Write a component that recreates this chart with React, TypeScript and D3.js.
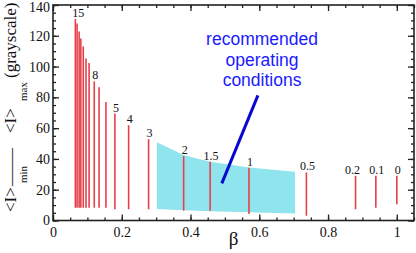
import { useEffect, useRef } from "react";
import * as d3 from "d3";

// bars: parameter label, beta position, top and bottom of the range
const params = ["15", "14", "13", "12", "11", "10", "9", "8", "7", "6", "5", "4", "3", "2", "1.5", "1", "0.5", "0.2", "0.1", "0"];
const betas = [0.065, 0.07, 0.076, 0.081, 0.088, 0.096, 0.105, 0.12, 0.134, 0.154, 0.18, 0.22, 0.278, 0.38, 0.457, 0.57, 0.737, 0.88, 0.939, 1.0];
const tops = [131, 128, 122.8, 118.2, 113.1, 105.3, 102.3, 90.4, 86.5, 77, 69.5, 61.9, 52.8, 41.8, 38.1, 34.2, 31.2, 29, 29, 29];
const bottoms = [8.3, 8.3, 8.3, 8.3, 8.3, 8.3, 8.3, 8.3, 8.3, 8.3, 7.3, 7.3, 7.3, 6.4, 6.4, 4.2, 3.1, 7.3, 8.3, 10.5];
const labelled = ["15", "8", "5", "4", "3", "2", "1.5", "1", "0.5", "0.2", "0.1", "0"];

// shaded "recommended" region
const bandBeta = [0.302, 0.381, 0.457, 0.57, 0.704];
const bandTop = [50.9, 42.4, 38.1, 34.4, 31.6];
const bandBottom = [7.4, 6.6, 6.0, 5.3, 4.6];

const xTicks = [0, 0.2, 0.4, 0.6, 0.8, 1];
const xTickLabels = ["0", "0.2", "0.4", "0.6", "0.8", "1"];
const yTicks = [0, 20, 40, 60, 80, 100, 120, 140];
const yTickLabels = ["0", "20", "40", "60", "80", "100", "120", "140"];

const noteLines = ["recommended", "operating", "conditions"];
const notePos = [0.608, 113.7];
const pointer = [[0.596, 81.3], [0.491, 24.1]];

const serif = "'Liberation Serif', 'Times New Roman', serif";
const sans = "'Liberation Sans', Arial, Helvetica, sans-serif";

const App = () => {
  const svgRef = useRef<SVGSVGElement>(null);

  useEffect(() => {
    const width = 416;
    const height = 253;
    const left = 53, right = 414, top = 5, bottom = 220.5;

    const svg = d3.select(svgRef.current);
    svg.selectAll("*").remove();
    svg.attr("width", width).attr("height", height);

    const x = d3.scaleLinear().domain([0, 1.05]).range([left, right]);
    const y = d3.scaleLinear().domain([0, 140]).range([bottom, top]);

    // band
    const band = bandBeta.map((b, i) => ({ b, t: bandTop[i], lo: bandBottom[i] }));
    svg.append("path")
      .datum(band)
      .attr("fill", "#8fe4ee")
      .attr("d", d3.area<any>().x(d => x(d.b)).y0(d => y(d.lo)).y1(d => y(d.t)));

    // bars
    const bars = params.map((p, i) => ({ p, b: betas[i], t: tops[i], lo: bottoms[i] }));
    svg.append("g").selectAll("line")
      .data(bars)
      .join("line")
      .attr("x1", d => x(d.b)).attr("x2", d => x(d.b))
      .attr("y1", d => y(d.lo)).attr("y2", d => y(d.t))
      .attr("stroke", "#e5404a")
      .attr("stroke-width", 1.6);

    svg.append("g").selectAll("text")
      .data(bars.filter(d => labelled.includes(d.p)))
      .join("text")
      .attr("x", d => x(d.b) + (d.p === "15" ? 3 : d.p === "0.2" ? -3 : 1))
      .attr("y", d => y(d.t) - 2)
      .attr("text-anchor", "middle")
      .style("font-family", serif)
      .style("font-size", "12px")
      .attr("fill", "#111")
      .text(d => d.p);

    // axes
    const xMinor = d3.range(0, 1.051, 0.05);
    const yMinor = d3.range(0, 140.1, 5);
    const axisStyle = (g: any) => {
      g.select(".domain").remove();
      g.selectAll("line").attr("stroke", "#222").attr("stroke-width", 1.3);
      g.selectAll("text").style("font-family", serif).style("font-size", "14px").attr("fill", "#111");
    };

    svg.append("g").attr("transform", `translate(0,${bottom})`)
      .call(d3.axisBottom(x).tickValues(xMinor).tickSize(-3).tickFormat(() => "")).call(axisStyle);
    svg.append("g").attr("transform", `translate(0,${bottom})`)
      .call(d3.axisBottom(x).tickValues(xTicks).tickSize(-6).tickPadding(6.5)
        .tickFormat((d, i) => xTickLabels[i])).call(axisStyle);
    svg.append("g").attr("transform", `translate(0,${top})`)
      .call(d3.axisTop(x).tickValues(xMinor).tickSize(-3).tickFormat(() => "")).call(axisStyle);
    svg.append("g").attr("transform", `translate(0,${top})`)
      .call(d3.axisTop(x).tickValues(xTicks).tickSize(-6).tickFormat(() => "")).call(axisStyle);

    svg.append("g").attr("transform", `translate(${left},0)`)
      .call(d3.axisLeft(y).tickValues(yMinor).tickSize(-3).tickFormat(() => "")).call(axisStyle);
    const yAxisG = svg.append("g").attr("transform", `translate(${left},0)`)
      .call(d3.axisLeft(y).tickValues(yTicks).tickSize(-6).tickPadding(3)
        .tickFormat((d, i) => yTickLabels[i])).call(axisStyle);
    // keep the top label inside the picture
    yAxisG.selectAll(".tick text").filter((d: any) => d === 140).attr("dy", "0.45em");
    svg.append("g").attr("transform", `translate(${right},0)`)
      .call(d3.axisRight(y).tickValues(yMinor).tickSize(-3).tickFormat(() => "")).call(axisStyle);
    svg.append("g").attr("transform", `translate(${right},0)`)
      .call(d3.axisRight(y).tickValues(yTicks).tickSize(-6).tickFormat(() => "")).call(axisStyle);

    // frame
    svg.append("rect")
      .attr("x", left).attr("y", top)
      .attr("width", right - left).attr("height", bottom - top)
      .attr("fill", "none").attr("stroke", "#222").attr("stroke-width", 1.6);

    // x title
    svg.append("text")
      .attr("x", (left + right) / 2).attr("y", 245)
      .attr("text-anchor", "middle")
      .style("font-family", serif).style("font-size", "19px")
      .attr("fill", "#111")
      .text("β");

    // y title, pieces reading upwards
    const yTitle = [
      { t: "<I>", x: 16, y: 212, s: 17 },
      { t: "min", x: 27, y: 183, s: 11 },
      { t: "——", x: 16, y: 186, s: 17, len: 38 },
      { t: "<I>", x: 16, y: 133, s: 17 },
      { t: "max", x: 27, y: 101, s: 11 },
      { t: "(grayscale)", x: 16, y: 78, s: 17 },
    ];
    yTitle.forEach(p => {
      const t = svg.append("text")
        .attr("transform", `translate(${p.x},${p.y}) rotate(-90)`)
        .style("font-family", serif).style("font-size", `${p.s}px`)
        .attr("fill", "#111")
        .text(p.t);
      if (p.len) t.attr("textLength", p.len).attr("lengthAdjust", "spacingAndGlyphs");
    });

    // annotation
    svg.append("text")
      .attr("text-anchor", "middle")
      .style("font-family", sans).style("font-size", "17.5px")
      .attr("fill", "#1a1aff")
      .selectAll("tspan")
      .data(noteLines)
      .join("tspan")
      .attr("x", x(notePos[0]))
      .attr("y", (d, i) => y(notePos[1]) + i * 20.3)
      .text(d => d);

    svg.append("line")
      .attr("x1", x(pointer[0][0])).attr("y1", y(pointer[0][1]))
      .attr("x2", x(pointer[1][0])).attr("y2", y(pointer[1][1]))
      .attr("stroke", "#0808d0")
      .attr("stroke-width", 3);
  }, []);

  return (
    <svg ref={svgRef} width={416} height={253}
      style={{ position: "absolute", left: 0, top: 0, background: "#fff" }} />
  );
};

export default App;
